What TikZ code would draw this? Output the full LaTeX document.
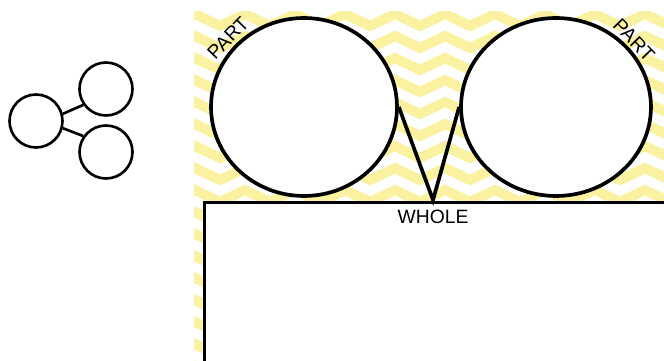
\documentclass[tikz,border=0pt]{standalone}
\usepackage{fontspec}
\setmainfont{Liberation Sans}
\usetikzlibrary{shapes.geometric}
\definecolor{chevyellow}{RGB}{250,242,160}

\tikzset{
  partcircle/.style={ellipse,draw,fill=white,line width=2.1pt,inner sep=0pt},
  smallcircle/.style={circle,draw,line width=1.5pt,minimum size=1.06cm,inner sep=0pt},
  lbl/.style={font=\fontsize{11}{13}\selectfont,inner sep=0pt}
}

\begin{document}
\begin{tikzpicture}[x=0.02cm,y=-0.02cm]
\useasboundingbox (0,0) rectangle (664,361);
% chevron paper
\begin{scope}
\clip (194,12) rectangle (664,361);
\foreach \y in {4,26,...,400}
  \draw[chevyellow,line width=0.2cm,line join=miter] (170,\y)
    \foreach \k in {1,...,11} {-- ++(25,-12) -- ++(25,12)};
\end{scope}

% small part-part-whole icon
\node[smallcircle] (hub) at (36,121) {};
\node[smallcircle] (top) at (106,89) {};
\node[smallcircle] (bot) at (106,152) {};
\draw[line width=1.5pt] (hub.15) -- (top.215);
\draw[line width=1.5pt] (hub.-15) -- (bot.145);

% whole box
\begin{scope}
\clip (194,12) rectangle (664,361);
\node[draw,fill=white,line width=1.9pt,anchor=north west,minimum width=10cm,minimum height=4cm] (whole) at (203,201) {};
\end{scope}
\node[lbl] (wholelbl) at (433,217) {WHOLE};

% the two parts
\node[partcircle,minimum width=3.72cm,minimum height=3.56cm] (partL) at (304,107) {};
\node[partcircle,minimum width=3.8cm,minimum height=3.56cm] (partR) at (556,107) {};
\coordinate (tip) at (433,200);
\draw[line width=2.1pt,line join=miter] (partL.east) -- (tip) -- (partR.west);
\node[lbl,rotate=46] (partLlbl) at (228,38) {PART};
\node[lbl,rotate=-46] (partRlbl) at (634,40) {PART};
\end{tikzpicture}
\end{document}
